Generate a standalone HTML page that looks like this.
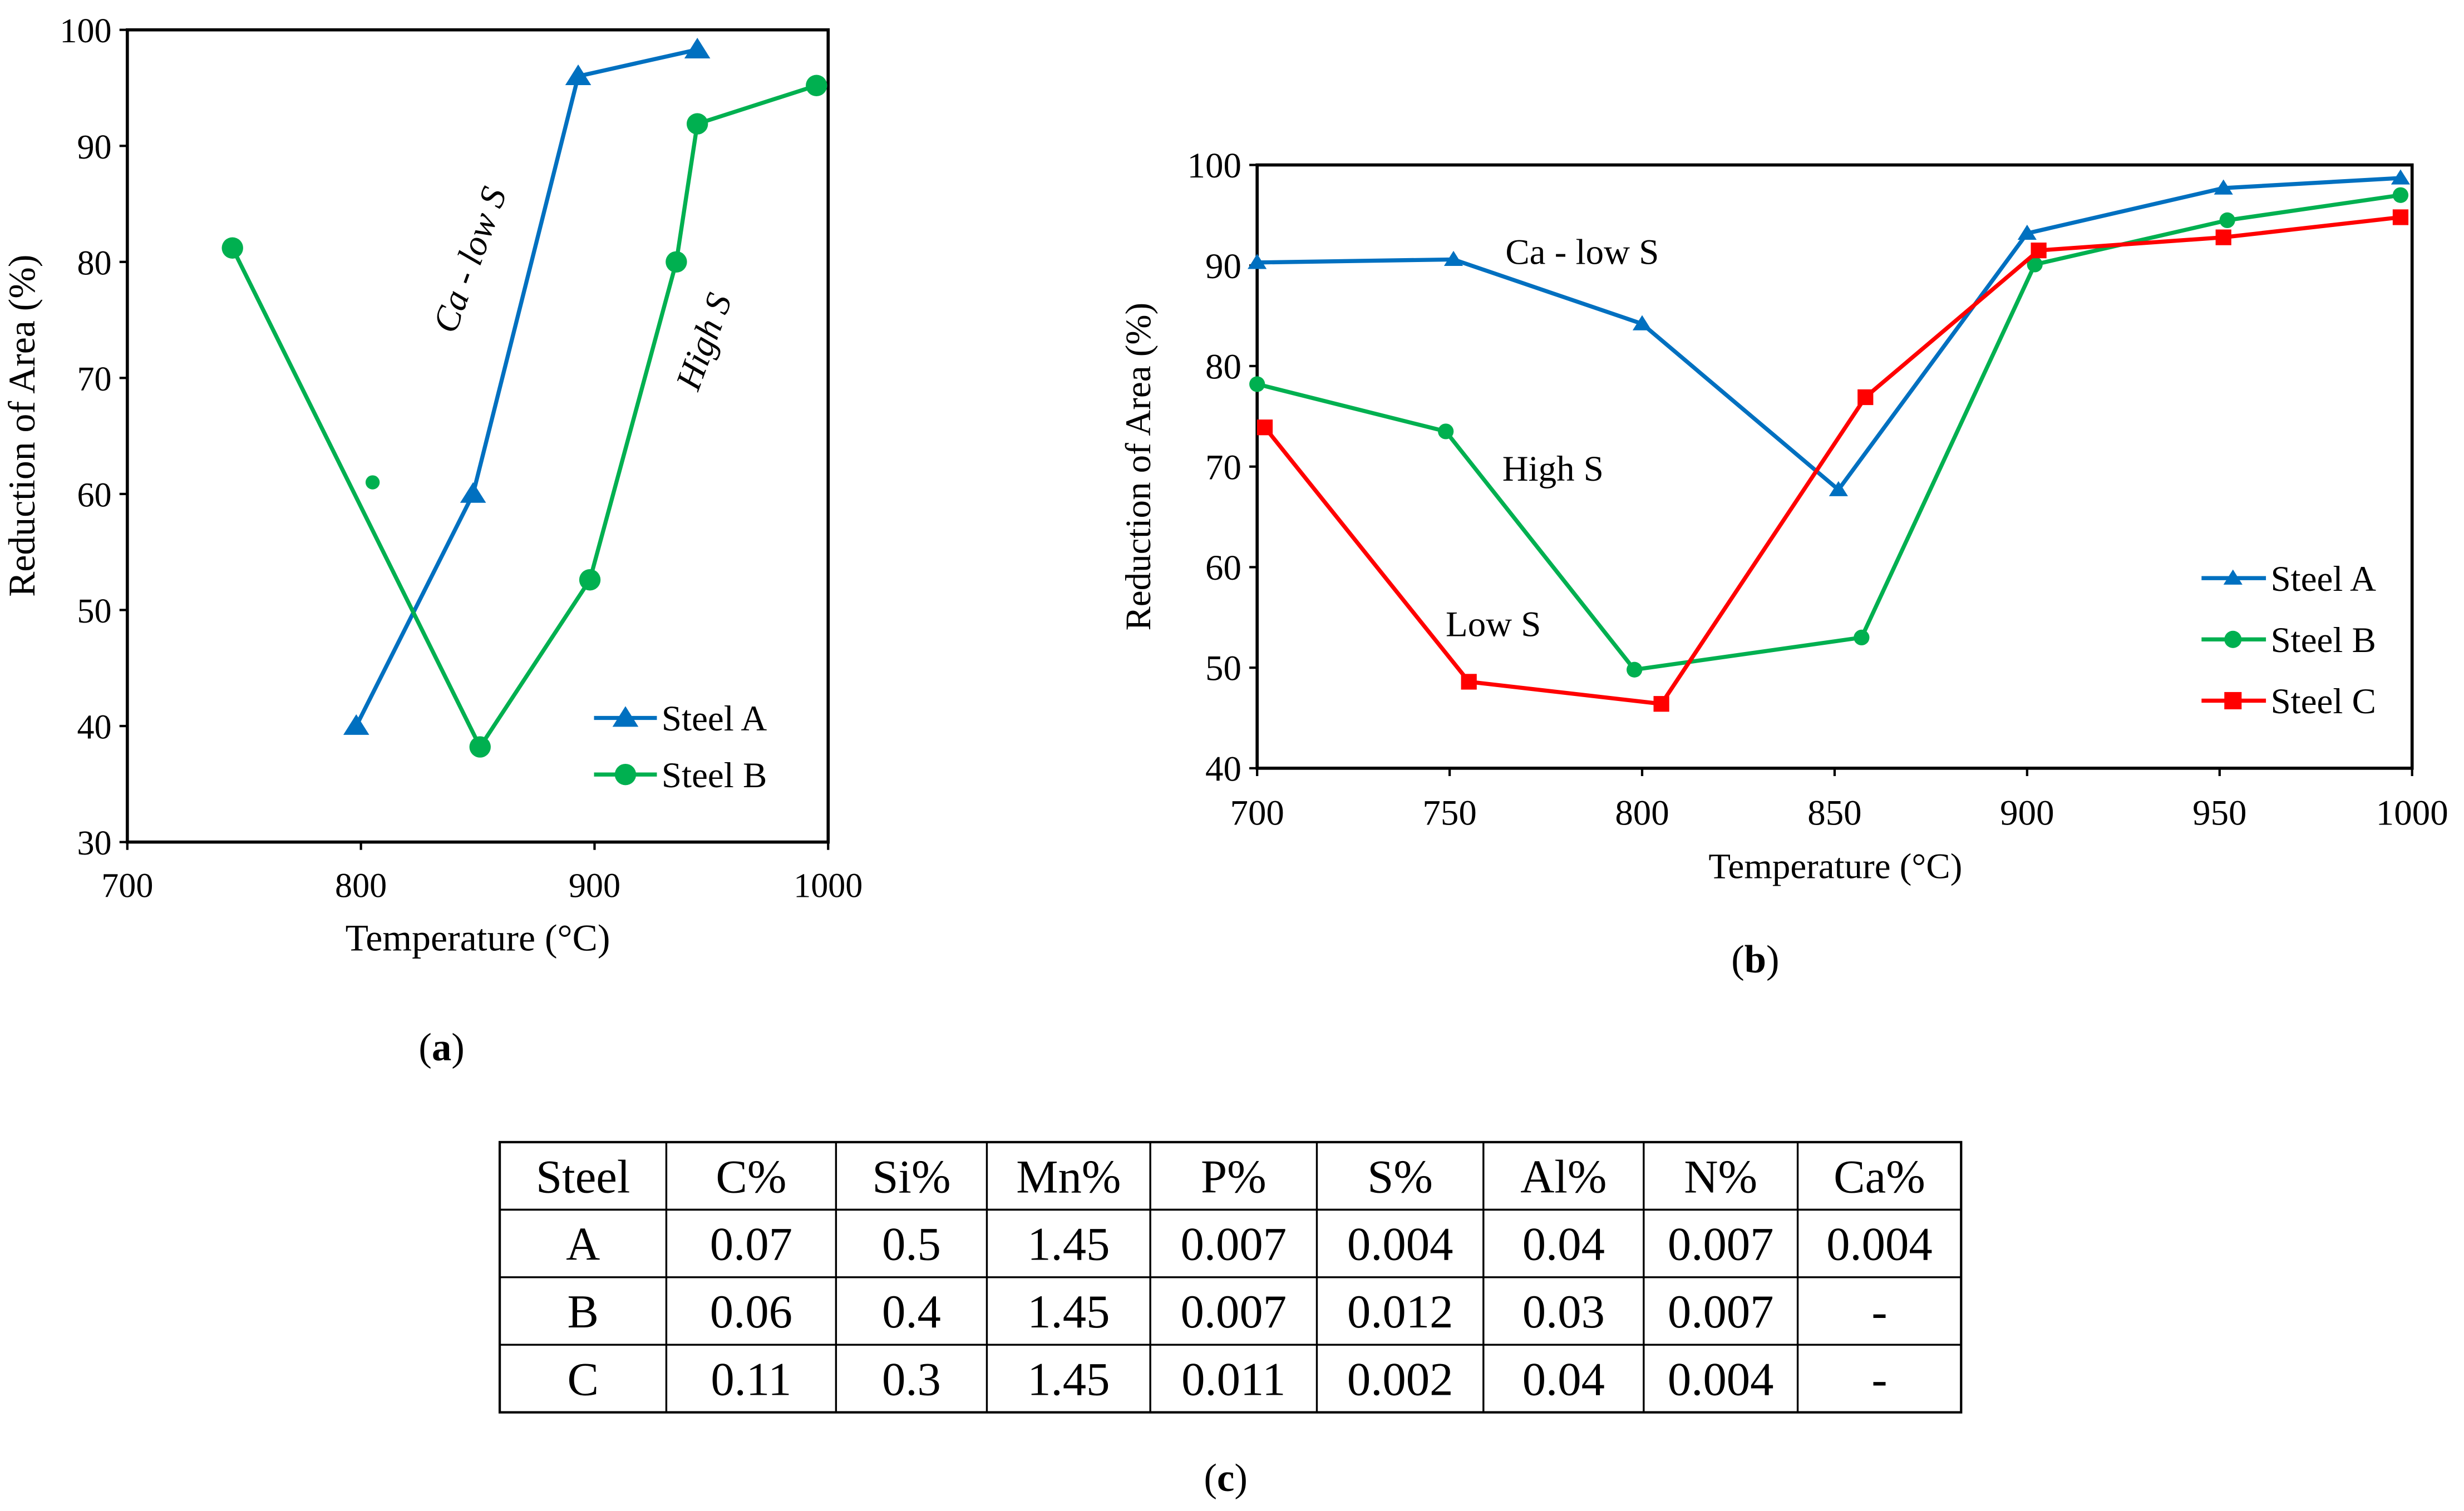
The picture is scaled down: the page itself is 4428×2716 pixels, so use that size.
<!DOCTYPE html>
<html><head><meta charset="utf-8"><style>
html,body{margin:0;padding:0;background:#fff;}
svg{display:block;font-family:"Liberation Serif",serif;}
</style></head><body>
<svg id="root" width="4428" height="2716" viewBox="0 0 1568 961.8" xmlns="http://www.w3.org/2000/svg">
<rect width="1568" height="962" fill="#fff"/>
<g id="ga"></g>
<g id="gb"></g>
<g id="gt"></g>
<text x="281" y="675" font-size="25" text-anchor="middle">(<tspan font-weight="bold">a</tspan>)</text>
<text x="1117" y="619" font-size="25" text-anchor="middle">(<tspan font-weight="bold">b</tspan>)</text>
<text x="780" y="949" font-size="25" text-anchor="middle">(<tspan font-weight="bold">c</tspan>)</text>
</svg>
<script>
// chart a data
const aTempA = [798, 848, 893, 944];
const aRA_A = [40, 60, 96, 98.3];
const aTempB = [745, 851, 898, 935, 944, 995];
const aRA_B = [81.2, 38.2, 52.6, 80, 91.9, 95.2];
const aOutlierT = [805];
const aOutlierV = [61];
const aXTicks = [700, 800, 900, 1000];
const aYTicks = [30, 40, 50, 60, 70, 80, 90, 100];
// chart b data
const bTempA = [700, 751, 800, 851, 900, 951, 997];
const bRA_A = [90.3, 90.6, 84.2, 67.7, 93.2, 97.7, 98.7];
const bTempB = [700, 749, 798, 857, 902, 952, 997];
const bRA_B = [78.2, 73.5, 49.8, 53, 90.1, 94.5, 97];
const bTempC = [702, 755, 805, 858, 903, 951, 997];
const bRA_C = [73.9, 48.6, 46.4, 76.9, 91.5, 92.8, 94.8];
const bXTicks = [700, 750, 800, 850, 900, 950, 1000];
const bYTicks = [40, 50, 60, 70, 80, 90, 100];
// table
const tHeader = ["Steel","C%","Si%","Mn%","P%","S%","Al%","N%","Ca%"];
const tRowA = ["A","0.07","0.5","1.45","0.007","0.004","0.04","0.007","0.004"];
const tRowB = ["B","0.06","0.4","1.45","0.007","0.012","0.03","0.007","-"];
const tRowC = ["C","0.11","0.3","1.45","0.011","0.002","0.04","0.004","-"];

const NS="http://www.w3.org/2000/svg";
function mk(parent,tag,attrs,text){const e=document.createElementNS(NS,tag);for(const k in attrs)e.setAttribute(k,attrs[k]);if(text!==undefined)e.textContent=text;parent.appendChild(e);return e;}
const BLUE="#0070C0",GREEN="#00B050",RED="#FF0000";

function marker(g,type,x,y,col,s){
  let m;
  if(type==="tri"){m=mk(g,"polygon",{points:`${x},${y-s} ${x-s*1.1},${y+s*0.75} ${x+s*1.1},${y+s*0.75}`,fill:col});}
  else if(type==="circ"){m=mk(g,"circle",{cx:x,cy:y,r:s,fill:col});}
  else {m=mk(g,"rect",{x:x-s,y:y-s,width:2*s,height:2*s,fill:col});}
  
  
}
function series(g,xs,ys,X,Y,col,type,s,name){
  const sg=mk(g,"g",{});
  
  
  mk(sg,"polyline",{points:xs.map((t,i)=>X(t)+","+Y(ys[i])).join(" "),fill:"none",stroke:col,"stroke-width":2.6,"stroke-linejoin":"round"});
  xs.forEach((t,i)=>marker(sg,type,X(t),Y(ys[i]),col,s));
}

// ---- Chart A
(function(){
  const g=document.getElementById("ga");
  const L=81,R=527,T=19,B=536;
  const X=t=>L+(t-700)/300*(R-L), Y=v=>B-(v-30)/70*(B-T);
  mk(g,"rect",{x:L,y:T,width:R-L,height:B-T,fill:"none",stroke:"#000","stroke-width":2});
  aYTicks.forEach(v=>{mk(g,"line",{x1:L-5,x2:L,y1:Y(v),y2:Y(v),stroke:"#000","stroke-width":1.5});
    const t=mk(g,"text",{x:L-10,y:Y(v)+8,"font-size":22,"text-anchor":"end"},v);});
  aXTicks.forEach(v=>{mk(g,"line",{x1:X(v),x2:X(v),y1:B,y2:B+5,stroke:"#000","stroke-width":1.5});
    const t=mk(g,"text",{x:X(v),y:B+35,"font-size":22,"text-anchor":"middle"},v);});
  let t=mk(g,"text",{x:304,y:605,"font-size":24,"text-anchor":"middle"},"Temperature (°C)");
  t=mk(g,"text",{x:0,y:0,"font-size":24,"text-anchor":"middle",transform:"translate(22,271) rotate(-90)"},"Reduction of Area (%)");
  series(g,aTempA,aRA_A,X,Y,BLUE,"tri",7.5,"series-steel-a");
  series(g,aTempB,aRA_B,X,Y,GREEN,"circ",6.8,"series-steel-b");
  aOutlierT.forEach((tt,i)=>{const c=mk(g,"circle",{cx:X(tt),cy:Y(aOutlierV[i]),r:4.5,fill:GREEN});});
  t=mk(g,"text",{x:0,y:0,"font-size":23,"font-style":"italic","text-anchor":"middle",transform:"translate(306,168) rotate(-70)"},"Ca - low S");
  t=mk(g,"text",{x:0,y:0,"font-size":23,"font-style":"italic","text-anchor":"middle",transform:"translate(455,220) rotate(-70)"},"High S");
  const lg=mk(g,"g",{});
  [["Steel A",BLUE,"tri",457],["Steel B",GREEN,"circ",493]].forEach(([n,c,ty,y])=>{
    const e=mk(lg,"g",{});
    mk(e,"line",{x1:378,x2:418,y1:y,y2:y,stroke:c,"stroke-width":2.6});marker(e,ty,398,y,c,ty==="tri"?7.5:6.8);
    mk(e,"text",{x:421,y:y+8,"font-size":23},n);});
})();

// ---- Chart B
(function(){
  const g=document.getElementById("gb");
  const L=800,R=1535,T=105,B=489;
  const X=t=>L+(t-700)/300*(R-L), Y=v=>B-(v-40)/60*(B-T);
  mk(g,"rect",{x:L,y:T,width:R-L,height:B-T,fill:"none",stroke:"#000","stroke-width":2});
  bYTicks.forEach(v=>{mk(g,"line",{x1:L-5,x2:L,y1:Y(v),y2:Y(v),stroke:"#000","stroke-width":1.5});
    const t=mk(g,"text",{x:L-10,y:Y(v)+8,"font-size":23,"text-anchor":"end"},v);});
  bXTicks.forEach(v=>{mk(g,"line",{x1:X(v),x2:X(v),y1:B,y2:B+5,stroke:"#000","stroke-width":1.5});
    const t=mk(g,"text",{x:X(v),y:B+36,"font-size":23,"text-anchor":"middle"},v);});
  let t=mk(g,"text",{x:1168,y:559,"font-size":23,"text-anchor":"middle"},"Temperature (°C)");
  t=mk(g,"text",{x:0,y:0,"font-size":23,"text-anchor":"middle",transform:"translate(732,297) rotate(-90)"},"Reduction of Area (%)");
  series(g,bTempA,bRA_A,X,Y,BLUE,"tri",5.5,"series-steel-a");
  series(g,bTempB,bRA_B,X,Y,GREEN,"circ",5,"series-steel-b");
  series(g,bTempC,bRA_C,X,Y,RED,"sq",5,"series-steel-c");
  [["Ca - low S",958,168],["High S",956,306],["Low S",920,405]].forEach(([s,x,y])=>{const a=mk(g,"text",{x:x,y:y,"font-size":23},s);});
  const lg=mk(g,"g",{});
  [["Steel A",BLUE,"tri",368],["Steel B",GREEN,"circ",407],["Steel C",RED,"sq",446]].forEach(([n,c,ty,y])=>{
    const e=mk(lg,"g",{});
    mk(e,"line",{x1:1401,x2:1442,y1:y,y2:y,stroke:c,"stroke-width":2.6});marker(e,ty,1421,y,c,5.5);
    mk(e,"text",{x:1445,y:y+8,"font-size":23},n);});
})();

// ---- Table
(function(){
  const g=document.getElementById("gt");
  const cols=[318,424,532,628,732,838,944,1046,1144,1248];
  const rows=[727,770,813,856,899];
  mk(g,"rect",{x:318,y:727,width:930,height:172,fill:"none",stroke:"#000","stroke-width":1.5});
  cols.slice(1,-1).forEach(x=>mk(g,"line",{x1:x,x2:x,y1:727,y2:899,stroke:"#000","stroke-width":1.2}));
  rows.slice(1,-1).forEach(y=>mk(g,"line",{x1:318,x2:1248,y1:y,y2:y,stroke:"#000","stroke-width":1.2}));
  [tHeader,tRowA,tRowB,tRowC].forEach((r,ri)=>r.forEach((s,ci)=>{
    const c=mk(g,"text",{x:(cols[ci]+cols[ci+1])/2,y:rows[ri]+32,"font-size":30,"text-anchor":"middle"},s);
    
    
  }));
})();
</script>
</body></html>
